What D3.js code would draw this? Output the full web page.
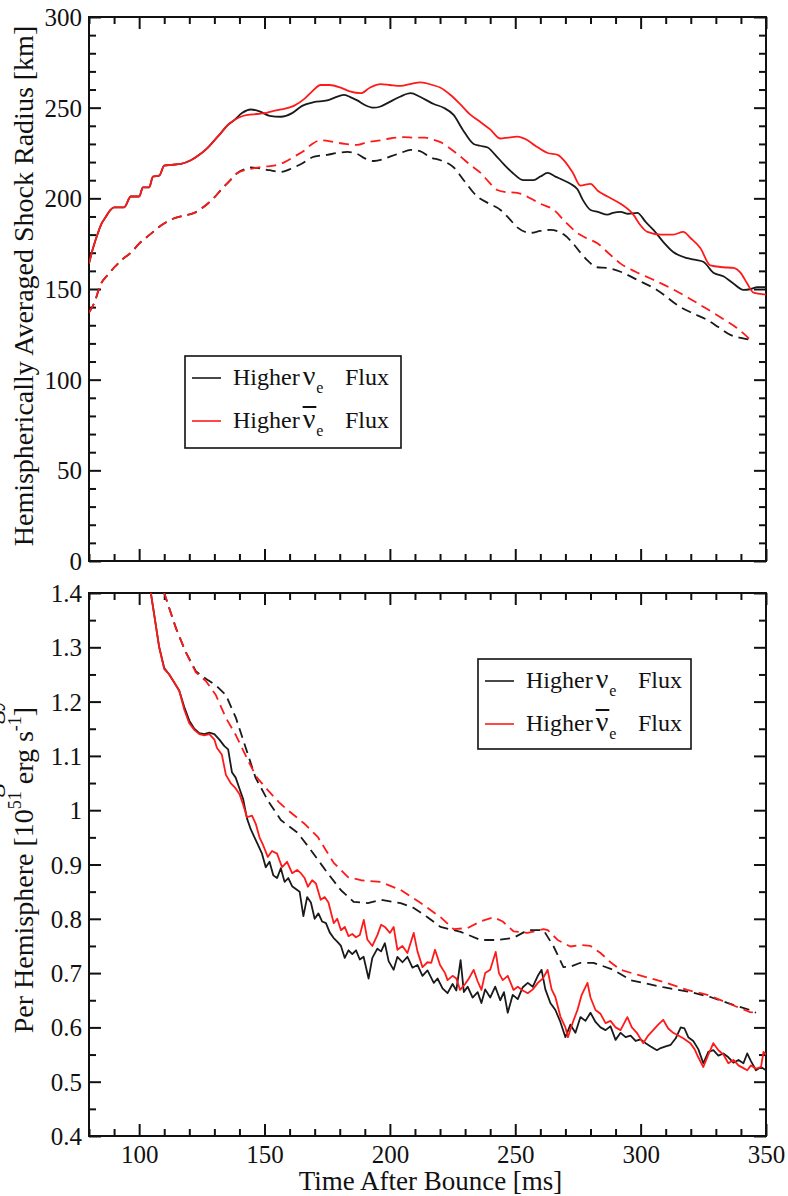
<!DOCTYPE html>
<html>
<head>
<meta charset="utf-8">
<script src="https://cdn.jsdelivr.net/npm/d3@7"></script>
<style>
  body { margin: 0; background: #fff; }
  svg { display: block; }
  text { font-family: "Liberation Serif", "Times New Roman", serif; fill: #111; }
</style>
</head>
<body>
<svg id="chart" width="788" height="1196" font-family="Liberation Serif, serif"></svg>
<script>
// ---- axis ticks ----
const timeTicks = [100, 150, 200, 250, 300, 350];
const timeMinorTicks = [80, 90, 110, 120, 130, 140, 160, 170, 180, 190, 210, 220, 230, 240, 260, 270, 280, 290, 310, 320, 330, 340];
const radiusTicks = [0, 50, 100, 150, 200, 250, 300];
const radiusMinorTicks = [10, 20, 30, 40, 60, 70, 80, 90, 110, 120, 130, 140, 160, 170, 180, 190, 210, 220, 230, 240, 260, 270, 280, 290];
const heatingTicks = [0.4, 0.5, 0.6, 0.7, 0.8, 0.9, 1.0, 1.1, 1.2, 1.3, 1.4];
const heatingTickLabels = ["0.4", "0.5", "0.6", "0.7", "0.8", "0.9", "1", "1.1", "1.2", "1.3", "1.4"];
const heatingMinorTicks = [0.45, 0.55, 0.65, 0.75, 0.85, 0.95, 1.05, 1.15, 1.25, 1.35];

// ---- upper panel: hemispherically averaged shock radius [km] vs time [ms] ----
// solid: first hemisphere, dashed: second hemisphere
const radiusNueSolid = [[80,164],[81.5,172],[83.6,181],[85,186],[86.8,190],[88.5,193.5],[90,195],[94,195],[96.7,201],[100,201],[101.5,206],[104,206],[105.5,212],[108,212.5],[110,218],[113,218.5],[116.7,219],[120.6,221],[124,224],[127.4,228],[130,232],[132.6,236],[135,240],[137.8,243],[141,247],[144.5,249],[148,248],[152,245.5],[156.5,245],[161,247],[165,251],[169.6,253],[175,254],[178,255.5],[181.6,257],[184,256],[187,254],[190,251.5],[193.5,250],[196,250.5],[199,252.5],[204,256],[208.3,258],[212,256],[217.5,252],[221.4,250],[225.4,246],[229,238],[233.4,230],[236,229],[239,228],[242,224],[245.3,219],[249,214],[253.3,210],[257.3,210],[260,212],[262.9,214],[266,212],[269.2,210],[272,208],[274.8,205],[277,199],[280,193.6],[283,192.5],[286.8,191],[289,192],[292,192.5],[295,191.5],[298.7,192],[302,187],[305.1,182.6],[309,176],[313,170.4],[318.6,167],[322,166],[325,165],[329,159],[333,157],[337,153],[341,149.5],[344,150],[346.5,151],[350,151]];
const radiusNuebarSolid = [[80,164],[81.5,172],[83.6,181],[85,186],[86.8,190],[88.5,193.5],[90,195],[94,195],[96.7,201],[100,201],[101.5,206],[104,206],[105.5,212],[108,212.5],[110,218],[113,218.5],[116.7,219],[120.6,221],[124,224],[127.4,228],[130,232],[132.6,236],[135,240],[137.8,243],[140.5,245],[143.3,246],[147,246.5],[150,247],[153,248],[156.5,249],[161.7,251],[166,255],[169,259],[172.4,262.5],[176,262.5],[180.4,261],[184,259],[188.4,258],[192,261],[196.3,263],[200,262.5],[204.3,262],[208,263],[212.3,264],[217,262.5],[220.2,261],[224.2,257],[228,252],[232.2,246],[236.2,242],[240,238],[244.1,233],[247,233.5],[250.9,234],[254.9,232],[258,229],[262.9,225],[266.9,224],[270,220],[273,214],[276,207],[280,208],[283,204],[286.8,201],[292,197],[297.1,191],[300,185],[302.7,181.5],[308,180],[313,180],[317,181.5],[320,178],[323.8,172.6],[327.8,163],[333,162],[337,161.6],[339.8,159],[342.5,153],[345,148],[350,147]];
const radiusNueDashed = [[80,137],[82,142],[84.8,153],[87,157],[90.1,162],[93,166],[96.7,170],[100,175],[103.4,179],[106,182],[108.7,185],[111,187],[114,189],[118,190.5],[122,192],[125,194.5],[127.3,197],[130,200.5],[132.6,204.6],[136,209.5],[139.2,214],[142,216],[144.5,217],[148,216.5],[152,215.5],[156.5,214.6],[160,216],[164,218.5],[169.8,223],[175,224],[179,225],[183.1,225.6],[187,224.5],[190,222],[193.7,220.6],[197,221.5],[200,223],[204.3,225],[208.3,226.7],[212,226],[216.3,222.5],[220.2,221],[225.5,217],[230,209],[234.8,201],[239,197.5],[244.1,193.6],[247.5,189],[250.8,184],[256.1,181],[260,182],[264,182.6],[269.4,180],[272.5,176],[276,170],[279,165.5],[282.6,162],[286.8,161.6],[292,159.5],[298.7,155],[306.5,149.5],[315.9,140],[321,136.5],[326.5,133],[331,129],[335.8,124.7],[340,123],[343.7,122]];
const radiusNuebarDashed = [[80,137],[82,142],[84.8,153],[87,157],[90.1,162],[93,166],[96.7,170],[100,175],[103.4,179],[106,182],[108.7,185],[111,187],[114,189],[118,190.5],[122,192],[125,194.5],[127.3,197],[130,200.5],[132.6,204.6],[136,209.5],[139.2,214],[142,215.5],[145.9,216.6],[150,217.5],[153.8,218],[158,220],[161.8,223],[166,226.5],[169,230],[172.4,232],[177.7,231],[182,230],[187,229.5],[191,231],[196.3,232],[200,233],[205.6,233.7],[210,233.5],[214,233.5],[217,232.5],[220.2,231],[224,227.5],[228.2,223],[232,218.5],[236.2,214],[239.5,209],[242.8,204.6],[246,203.5],[250.8,203],[256.1,200],[260,197],[265.4,193.6],[270,187],[274.7,181],[278.5,178],[282.6,175.4],[287,170],[292,164],[298,159.5],[305.2,155],[312,150.5],[318.5,145.6],[324,141],[329.1,136.8],[334,132.5],[338.4,128.5],[341,125.5],[343.7,122]];

// ---- lower panel: heating per hemisphere [10^51 erg/s] vs time [ms] ----
const heatNueSolid = [[104,1.42],[106,1.36],[108,1.30],[110,1.262],[112,1.25],[114,1.235],[116,1.22],[118,1.19],[120,1.165],[122,1.15],[124,1.142],[126,1.14],[128,1.143],[130,1.14],[132,1.13],[134,1.118],[135.5,1.112],[137,1.07],[138.5,1.06],[140,1.04],[141.5,1.02],[143,0.985],[144.5,0.965],[146,0.95],[147.5,0.935],[149,0.92],[150.5,0.895],[152,0.905],[153.5,0.88],[155,0.875],[156.5,0.893],[158,0.868],[159.5,0.875],[161,0.86],[162.5,0.855],[164,0.85],[165.5,0.805],[167,0.84],[168.5,0.83],[170,0.80],[171.5,0.81],[173,0.795],[174.5,0.792],[176,0.775],[177.5,0.765],[179,0.758],[180.5,0.75],[182,0.728],[183.5,0.742],[185,0.735],[186.5,0.742],[188,0.725],[189.5,0.73],[191.5,0.69],[193,0.728],[195,0.745],[196.5,0.74],[198,0.755],[199.5,0.722],[201.5,0.706],[203,0.73],[205,0.72],[207,0.73],[209,0.71],[211,0.715],[213,0.695],[215,0.705],[217.5,0.682],[219,0.69],[221,0.672],[223,0.663],[225,0.68],[226.5,0.668],[228.2,0.724],[229.5,0.665],[231,0.675],[233,0.655],[235,0.665],[236.5,0.645],[238,0.67],[240,0.655],[242,0.675],[244,0.65],[245.5,0.665],[247,0.627],[249,0.66],[251,0.652],[253,0.674],[255,0.682],[257,0.675],[259,0.695],[260.5,0.706],[262,0.67],[264,0.645],[266,0.632],[268,0.61],[270,0.582],[272,0.605],[274,0.59],[276,0.619],[278,0.612],[280,0.627],[282,0.61],[284,0.6],[286,0.595],[288,0.602],[290,0.577],[292,0.59],[294,0.582],[296,0.585],[298,0.575],[300,0.578],[302,0.571],[304,0.565],[306.5,0.558],[308,0.562],[310,0.565],[312,0.568],[314,0.58],[316,0.6],[317.5,0.598],[319,0.582],[321,0.575],[323,0.56],[325,0.534],[327,0.555],[329,0.558],[331,0.548],[333,0.552],[335,0.545],[337,0.535],[339,0.54],[341,0.534],[342.5,0.552],[344,0.538],[346,0.521],[348,0.527],[350,0.521]];
const heatNuebarSolid = [[104,1.42],[106,1.36],[108,1.30],[110,1.26],[112,1.25],[114,1.235],[116,1.22],[118,1.185],[120,1.16],[122,1.148],[124,1.14],[126,1.138],[128,1.14],[130,1.13],[131,1.115],[133,1.102],[134.6,1.065],[136.5,1.05],[138.5,1.04],[140,1.03],[141.5,1.01],[143,0.987],[145,0.99],[146.5,0.975],[148,0.95],[149.5,0.935],[151.3,0.914],[153,0.925],[155,0.92],[157,0.895],[159,0.905],[161,0.884],[163,0.89],[164.5,0.884],[166,0.875],[167.3,0.859],[169,0.871],[170.5,0.865],[172.4,0.835],[174,0.84],[175.5,0.83],[177.6,0.792],[179,0.8],[180.5,0.779],[182,0.785],[183.5,0.768],[185,0.772],[186.5,0.766],[188,0.77],[189.6,0.798],[191,0.762],[193,0.75],[195,0.77],[196.5,0.789],[198,0.785],[200,0.774],[201.5,0.785],[203,0.743],[205,0.75],[207,0.737],[209.5,0.774],[211,0.74],[213,0.711],[215,0.72],[216.5,0.719],[218,0.743],[220,0.715],[222,0.7],[223,0.687],[225,0.695],[226.5,0.69],[228,0.669],[230,0.68],[231.5,0.69],[233.4,0.706],[235,0.685],[236.5,0.669],[238,0.7],[240,0.706],[242.2,0.739],[243.5,0.7],[245,0.687],[247,0.695],[249.3,0.669],[251,0.675],[253,0.668],[255,0.663],[257,0.67],[259,0.682],[261,0.69],[262.9,0.706],[264.5,0.67],[266,0.656],[268,0.62],[270,0.6],[271,0.582],[273,0.61],[274.8,0.632],[276.5,0.66],[278.8,0.682],[280,0.655],[282,0.632],[284,0.625],[286,0.608],[288,0.612],[290,0.6],[292,0.595],[294.7,0.619],[296.5,0.6],[298.5,0.59],[301,0.571],[303,0.585],[305,0.595],[307,0.605],[309,0.614],[311,0.598],[313,0.59],[315,0.585],[317,0.58],[319.8,0.571],[321.5,0.56],[323,0.545],[325,0.527],[327,0.55],[329,0.571],[331,0.558],[333,0.55],[335,0.534],[337,0.54],[339,0.53],[341,0.525],[342.5,0.521],[344,0.53],[346,0.524],[348,0.527],[349,0.555],[350,0.55]];
const heatNueDashed = [[108,1.43],[110,1.40],[114.7,1.335],[118.6,1.291],[122.6,1.256],[126.6,1.242],[130.6,1.23],[134.6,1.212],[138.6,1.17],[142.5,1.115],[146.5,1.059],[151.7,1.015],[156.5,0.982],[163.3,0.958],[168.4,0.927],[175.2,0.884],[180.4,0.853],[185.6,0.831],[191.2,0.829],[196.3,0.835],[204.3,0.829],[209.5,0.82],[215,0.803],[220.2,0.785],[228.2,0.776],[236.2,0.761],[243,0.761],[249.3,0.765],[254.9,0.779],[261.3,0.779],[265.3,0.749],[269.2,0.711],[272,0.712],[276,0.719],[281.2,0.719],[289.2,0.706],[296,0.687],[309,0.674],[319.8,0.665],[327.8,0.656],[334.6,0.645],[343.7,0.632],[346,0.627]];
const heatNuebarDashed = [[108,1.43],[110,1.40],[114.7,1.335],[118.6,1.291],[122.6,1.254],[126.6,1.238],[130.6,1.212],[134.6,1.17],[138.6,1.138],[143.7,1.089],[147,1.06],[151.3,1.037],[155.7,1.015],[159.3,1.0],[165.7,0.976],[171.2,0.951],[174,0.93],[177.6,0.903],[183.2,0.877],[188.4,0.871],[196.3,0.868],[204.3,0.853],[212.3,0.829],[220.2,0.803],[225.4,0.781],[231,0.783],[236,0.795],[241.4,0.803],[245,0.795],[249.3,0.777],[254.9,0.774],[261.3,0.781],[263,0.779],[266.9,0.761],[272,0.749],[276,0.752],[280,0.75],[284,0.737],[288,0.72],[292,0.706],[298.7,0.697],[309,0.684],[318.6,0.669],[326.6,0.66],[334.6,0.645],[343.7,0.628],[346,0.627]];

const seriesColors = { nue: "#1a1a1a", nuebar: "#ff1a1a" };
const FONT = "Liberation Serif, Times New Roman, serif";

// ---- scales ----
const svg = d3.select("#chart");
const x = d3.scaleLinear().domain([80, 350]).range([89, 766]);
const yTop = d3.scaleLinear().domain([0, 300]).range([561, 17]);
const yBot = d3.scaleLinear().domain([0.4, 1.4]).range([1136, 593]);

const TICK_FONT = 25;
const MAJOR = 12, MINOR = 7;

function styleAxis(g) {
  g.select(".domain").remove();
  g.selectAll(".tick line").attr("stroke", "#111").attr("stroke-width", 2);
  g.selectAll(".tick text").attr("fill", "#111").attr("font-family", FONT);
  g.attr("font-family", FONT).attr("font-size", TICK_FONT);
}

function drawPanel(y, yMajor, yMinor, yFormat, withTimeLabels, id) {
  const [x0, x1] = x.range();
  const [yb, yt] = y.range();

  // bottom and top time axes (ticks pointing inward)
  svg.append("g").attr("transform", `translate(0,${yb})`)
    .call(d3.axisBottom(x).tickValues(timeTicks).tickSize(-MAJOR).tickSizeOuter(0).tickPadding(9)
      .tickFormat(withTimeLabels ? d3.format("d") : () => ""))
    .call(styleAxis);
  svg.append("g").attr("transform", `translate(0,${yb})`)
    .call(d3.axisBottom(x).tickValues(timeMinorTicks).tickSize(-MINOR).tickSizeOuter(0).tickFormat(() => ""))
    .call(styleAxis);
  svg.append("g").attr("transform", `translate(0,${yt})`)
    .call(d3.axisTop(x).tickValues(timeTicks).tickSize(-MAJOR).tickSizeOuter(0).tickFormat(() => ""))
    .call(styleAxis);
  svg.append("g").attr("transform", `translate(0,${yt})`)
    .call(d3.axisTop(x).tickValues(timeMinorTicks).tickSize(-MINOR).tickSizeOuter(0).tickFormat(() => ""))
    .call(styleAxis);

  // left and right value axes
  svg.append("g").attr("transform", `translate(${x0},0)`)
    .call(d3.axisLeft(y).tickValues(yMajor).tickSize(-MAJOR).tickSizeOuter(0).tickPadding(7).tickFormat(yFormat))
    .call(styleAxis)
    .call(g => g.selectAll(".tick text").attr("dy", "0.34em"));
  svg.append("g").attr("transform", `translate(${x0},0)`)
    .call(d3.axisLeft(y).tickValues(yMinor).tickSize(-MINOR).tickSizeOuter(0).tickFormat(() => ""))
    .call(styleAxis);
  svg.append("g").attr("transform", `translate(${x1},0)`)
    .call(d3.axisRight(y).tickValues(yMajor).tickSize(-MAJOR).tickSizeOuter(0).tickFormat(() => ""))
    .call(styleAxis);
  svg.append("g").attr("transform", `translate(${x1},0)`)
    .call(d3.axisRight(y).tickValues(yMinor).tickSize(-MINOR).tickSizeOuter(0).tickFormat(() => ""))
    .call(styleAxis);

  // frame
  svg.append("rect")
    .attr("x", x0).attr("y", yt).attr("width", x1 - x0).attr("height", yb - yt)
    .attr("fill", "none").attr("stroke", "#111").attr("stroke-width", 2);

  // clip region for the curves
  svg.append("clipPath").attr("id", id)
    .append("rect").attr("x", x0).attr("y", yt).attr("width", x1 - x0).attr("height", yb - yt);
}

function drawCurve(data, y, color, dashed, clipId, curve) {
  const line = d3.line().x(d => x(d[0])).y(d => y(d[1])).curve(curve);
  svg.append("path")
    .datum(data)
    .attr("clip-path", `url(#${clipId})`)
    .attr("fill", "none")
    .attr("stroke", color)
    .attr("stroke-width", 1.8)
    .attr("stroke-linejoin", "round")
    .attr("stroke-dasharray", dashed ? "10,6" : null)
    .attr("d", line);
}

function drawLegend(left, top, width, height) {
  svg.append("rect").attr("x", left).attr("y", top).attr("width", width).attr("height", height)
    .attr("fill", "#fff").attr("stroke", "#111").attr("stroke-width", 1.6);
  const rows = [
    { color: seriesColors.nue, bar: false, dy: 22 },
    { color: seriesColors.nuebar, bar: true, dy: 65 }
  ];
  rows.forEach(r => {
    const ly = top + r.dy;
    svg.append("line").attr("x1", left + 7).attr("x2", left + 36).attr("y1", ly).attr("y2", ly)
      .attr("stroke", r.color).attr("stroke-width", 1.6);
    const base = ly + 7;
    const higher = svg.append("text").attr("x", left + 48).attr("y", base).attr("font-size", 24)
      .attr("font-family", FONT).text("Higher");
    const nuX = left + 48 + higher.node().getComputedTextLength() + 3;
    const nu = svg.append("text").attr("x", nuX).attr("y", base).attr("font-size", 28)
      .attr("font-family", FONT).text("ν");
    const w = nu.node().getComputedTextLength();
    svg.append("text").attr("x", nuX + w + 1).attr("y", base + 8).attr("font-size", 16)
      .attr("font-family", FONT).text("e");
    svg.append("text").attr("x", left + 160).attr("y", base).attr("font-size", 24)
      .attr("font-family", FONT).text("Flux");
    if (r.bar) {
      svg.append("line").attr("x1", nuX).attr("x2", nuX + w + 1)
        .attr("y1", base - 21).attr("y2", base - 21).attr("stroke", "#111").attr("stroke-width", 2);
    }
  });
}

// ---- upper panel ----
drawPanel(yTop, radiusTicks, radiusMinorTicks, d3.format("d"), false, "clipTop");
drawCurve(radiusNueDashed, yTop, seriesColors.nue, true, "clipTop", d3.curveMonotoneX);
drawCurve(radiusNuebarDashed, yTop, seriesColors.nuebar, true, "clipTop", d3.curveMonotoneX);
drawCurve(radiusNueSolid, yTop, seriesColors.nue, false, "clipTop", d3.curveMonotoneX);
drawCurve(radiusNuebarSolid, yTop, seriesColors.nuebar, false, "clipTop", d3.curveMonotoneX);
drawLegend(185, 356, 216, 92);

// ---- lower panel ----
const heatLabel = new Map(heatingTicks.map((v, i) => [v, heatingTickLabels[i]]));
drawPanel(yBot, heatingTicks, heatingMinorTicks, v => heatLabel.get(v), true, "clipBot");
drawCurve(heatNueDashed, yBot, seriesColors.nue, true, "clipBot", d3.curveLinear);
drawCurve(heatNuebarDashed, yBot, seriesColors.nuebar, true, "clipBot", d3.curveLinear);
drawCurve(heatNueSolid, yBot, seriesColors.nue, false, "clipBot", d3.curveLinear);
drawCurve(heatNuebarSolid, yBot, seriesColors.nuebar, false, "clipBot", d3.curveLinear);
drawLegend(478, 659, 213, 90);

// ---- axis titles ----
svg.append("text")
  .attr("transform", `translate(${(x.range()[0] + x.range()[1]) / 2 + 3},1190)`)
  .attr("text-anchor", "middle").attr("font-size", 27).attr("font-family", FONT)
  .text("Time After Bounce [ms]");

svg.append("text")
  .attr("transform", "translate(33,286) rotate(-90)")
  .attr("text-anchor", "middle").attr("font-size", 28).attr("font-family", FONT)
  .text("Hemispherically Averaged Shock Radius [km]");

// two-line title of the lower panel; the first line sits at the page edge
svg.append("text")
  .attr("transform", "translate(-1,870) rotate(-90)")
  .attr("text-anchor", "middle").attr("font-size", 28).attr("font-family", FONT)
  .text("Total Neutrino Heating Energy");

const lowTitle = svg.append("text")
  .attr("transform", "translate(33,870) rotate(-90)")
  .attr("text-anchor", "middle").attr("font-size", 28).attr("font-family", FONT);
lowTitle.append("tspan").text("Per Hemisphere [10");
lowTitle.append("tspan").attr("dy", -12).attr("font-size", 18).text("51");
lowTitle.append("tspan").attr("dy", 12).text(" erg s");
lowTitle.append("tspan").attr("dy", -12).attr("font-size", 18).text("-1");
lowTitle.append("tspan").attr("dy", 12).text("]");
</script>
</body>
</html>
